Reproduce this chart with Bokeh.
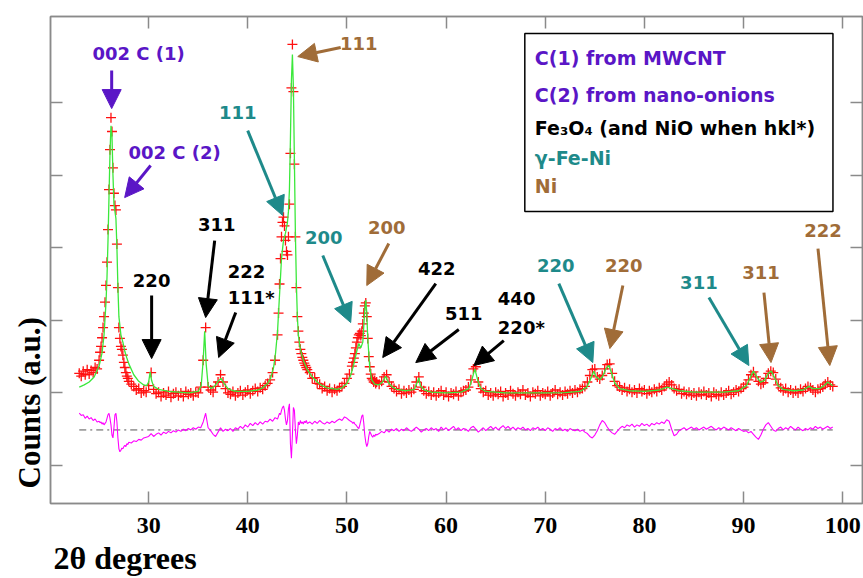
import numpy as np
from bokeh.plotting import figure
from bokeh.models import (LinearAxis, FixedTicker, Label, Arrow, NormalHead,
                          BoxAnnotation, Title)
from bokeh.embed import file_html
from bokeh.resources import INLINE

# ---------------- data ----------------
# observed pattern, per 2-theta segment (start, stop) -> counts
seg_a = (23.0, 25.0)
obs_a = [1270, 1230, 1300, 1250, 1320, 1260, 1310, 1280, 1350, 1330, 1450]
diff_a = [720, 690, 700, 650, 680, 640, 660, 620, 640, 600, 610]

seg_b = (25.1, 28.0)
obs_b = [1560, 1640, 1760, 1900, 2050, 2250, 2480, 2800, 3250,
         3800, 4350, 4790, 4600, 4100, 3750, 3580, 3520, 3050, 2450,
         1900, 1750, 1640, 1600, 1520, 1420, 1350, 1280, 1230, 1200,
         1160]
diff_b = [590, 600, 570, 590, 560, 580, 600, 650, 700,
          720, 650, 560, 420, 380, 520, 700, 720, 600, 380,
          230, 190, 210, 240, 230, 260, 280, 260, 300, 290,
          320]

seg_c = (28.25, 43.0)
obs_c = [1120, 1090, 1040, 1060, 1000, 1030, 1010, 1100, 1280, 1050, 990, 1010,
         950, 1000, 970, 1020, 940, 990, 1010, 960, 1000, 950, 1020, 980,
         1000, 960, 1010, 1000, 1080, 1450, 1900, 1080, 1040, 1010, 1090, 1150,
         1250, 1150, 1060, 1000, 980, 1020, 960, 1000, 1030, 970, 1010, 1040,
         990, 1030, 1060, 1020, 1070, 1050, 1100, 1130, 1180, 1280, 1450, 1800]
diff_c = [310, 340, 330, 360, 350, 380, 390, 400, 440, 400, 430, 450,
          420, 460, 440, 470, 450, 480, 460, 490, 470, 500, 480, 510,
          490, 520, 500, 530, 520, 600, 720, 520, 480, 430, 400, 460,
          520, 470, 500, 480, 510, 470, 520, 500, 540, 510, 560, 530,
          580, 550, 590, 560, 600, 570, 610, 600, 640, 610, 660, 640]

seg_d = (43.1, 46.0)
obs_d = [2100, 2500, 2850, 3150, 3350, 3420, 3300, 3100, 2950,
         2900, 3150, 3600, 4300, 5200, 5800, 5150, 4150, 3150, 2450,
         2050, 1850, 1700, 1600, 1540, 1490, 1450, 1410, 1380, 1350,
         1320]
diff_d = [680, 720, 700, 760, 800, 820, 760, 640, 560,
          620, 780, 850, 300, 100, 420, 800, 760, 500, 300,
          420, 600, 560, 620, 580, 600, 570, 610, 590, 620,
          580]

seg_e = (46.25, 50.5)
obs_e = [1280, 1200, 1210, 1130, 1120, 1060, 1090, 1030, 1060,
         1010, 1050, 1030, 1070, 1090, 1130, 1200, 1260, 1370]
diff_e = [600, 570, 610, 580, 620, 590, 570, 600, 580,
          610, 590, 620, 640, 620, 670, 650, 620, 600]

seg_f = (50.6, 53.0)
obs_f = [1420, 1480, 1540, 1620, 1700, 1760, 1800, 1820, 1790, 1850,
         1950, 2100, 2200, 2240, 2050, 1750, 1500, 1360, 1260, 1200,
         1180, 1150, 1170, 1130, 1150]
diff_f = [580, 600, 570, 560, 540, 520, 510, 560, 620, 680,
          700, 580, 420, 320, 260, 300, 400, 470, 440, 410,
          390, 420, 400, 430, 420]

seg_g = (53.25, 99.0)
obs_g = [1120, 1160, 1220, 1250, 1150, 1090, 1060, 1020, 1050, 990, 1030, 1000,
         1040, 1010, 1050, 1150, 1220, 1080, 1030, 990, 1020, 970, 1010, 960,
         1000, 1030, 970, 1010, 950, 1000, 980, 1020, 960, 1010, 1030, 1040,
         1080, 1180, 1330, 1360, 1150, 1060, 1010, 1030, 970, 1000, 960, 1010,
         980, 1020, 950, 1000, 970, 1030, 990, 960, 1010, 980, 1040, 970,
         1000, 950, 1010, 990, 1030, 960, 1000, 980, 1020, 960, 1000, 1040,
         980, 1010, 970, 1020, 990, 1030, 1000, 1040, 1010, 1050, 1060, 1090,
         1150, 1240, 1320, 1330, 1220, 1190, 1240, 1330, 1390, 1400, 1270, 1160,
         1100, 1080, 1040, 1070, 1020, 1050, 1010, 1040, 1000, 1060, 1020, 1040,
         990, 1030, 1010, 1050, 1020, 1070, 1040, 1090, 1120, 1150, 1110, 1060,
         1030, 1050, 990, 1020, 980, 1010, 970, 1000, 960, 1010, 980, 1020,
         970, 1000, 950, 1010, 980, 960, 1010, 970, 1000, 1030, 980, 1010,
         1040, 1020, 1060, 1080, 1120, 1180, 1250, 1290, 1220, 1160, 1120, 1140,
         1200, 1270, 1300, 1280, 1190, 1110, 1070, 1030, 1060, 1010, 1040, 1000,
         1030, 1000, 1050, 1020, 1060, 1090, 1070, 1040, 1010, 1050, 1060, 1080,
         1120, 1150, 1110, 1090]
diff_g = [440, 470, 450, 490, 460, 500, 480, 510, 470, 500, 480, 520,
          490, 470, 500, 530, 500, 460, 490, 510, 480, 520, 490, 510,
          470, 530, 490, 520, 480, 510, 540, 490, 520, 480, 510, 500,
          470, 520, 540, 500, 460, 490, 520, 480, 510, 540, 500, 530,
          490, 520, 550, 510, 540, 500, 530, 490, 520, 500, 530, 490,
          510, 480, 520, 500, 530, 490, 510, 480, 520, 500, 470, 510,
          490, 520, 480, 500, 470, 510, 490, 480, 500, 470, 490, 460,
          440, 400, 380, 420, 480, 560, 620, 590, 530, 480, 450, 430,
          470, 510, 540, 520, 560, 540, 570, 530, 560, 540, 580, 550,
          570, 540, 580, 560, 590, 570, 600, 580, 630, 610, 500, 410,
          430, 480, 500, 520, 490, 510, 530, 500, 520, 490, 510, 530,
          500, 520, 540, 510, 490, 520, 500, 530, 510, 490, 520, 500,
          480, 510, 490, 470, 480, 450, 470, 430, 390, 360, 420, 500,
          560, 590, 540, 490, 470, 510, 530, 490, 520, 500, 540, 510,
          490, 530, 500, 480, 510, 490, 520, 500, 540, 510, 530, 500,
          520, 540, 510, 530]

# calculated (fitted) profile
calc_x = [23.0, 23.5, 24.0, 24.5, 25.0, 25.3, 25.5, 25.7, 25.8, 25.9,
          26.0, 26.1, 26.2, 26.3, 26.4, 26.5, 26.6, 26.7, 26.8, 26.9,
          27.0, 27.2, 27.4, 27.6, 27.8, 28.0, 28.5, 29.0, 29.5, 29.8,
          30.0, 30.15, 30.3, 30.5, 31.0, 32.0, 33.0, 34.0, 35.0, 35.3,
          35.5, 35.65, 35.8, 36.0, 36.3, 36.7, 37.0, 37.3, 37.6, 38.0,
          38.5, 39.0, 40.0, 41.0, 41.5, 42.0, 42.3, 42.6, 42.8, 43.0,
          43.2, 43.4, 43.6, 43.8, 44.0, 44.1, 44.2, 44.3, 44.4, 44.5,
          44.6, 44.7, 44.8, 44.9, 45.0, 45.1, 45.3, 45.6, 46.0, 46.5,
          47.0, 47.5, 48.0, 49.0, 49.5, 50.0, 50.4, 50.7, 51.0, 51.2,
          51.4, 51.6, 51.8, 51.9, 52.0, 52.1, 52.3, 52.5, 52.8, 53.2,
          53.6, 53.9, 54.2, 54.6, 55.0, 56.0, 56.8, 57.1, 57.25, 57.4,
          57.8, 58.5, 60.0, 61.5, 62.3, 62.6, 62.9, 63.2, 63.5, 64.0,
          66.0, 70.0, 72.0, 73.5, 74.2, 74.6, 74.9, 75.1, 75.5, 75.8,
          76.1, 76.4, 76.7, 77.0, 77.5, 78.5, 80.0, 81.5, 82.3, 82.8,
          83.5, 85.0, 88.0, 89.5, 90.3, 90.7, 91.0, 91.3, 91.7, 92.1,
          92.5, 92.8, 93.1, 93.5, 94.0, 95.0, 96.0, 96.6, 97.0, 97.7,
          98.2, 98.5, 98.8, 99.0]
calc_y = [1080, 1110, 1150, 1220, 1370, 1550, 1800, 2250, 2600, 3100,
          3700, 4300, 4680, 4550, 4000, 3600, 3500, 3400, 3000, 2450,
          2050, 1800, 1700, 1570, 1480, 1400, 1250, 1160, 1110, 1100,
          1150, 1290, 1170, 1090, 1050, 1020, 1010, 1000, 1020, 1100,
          1450, 1850, 1400, 1100, 1060, 1100, 1160, 1200, 1130, 1060,
          1030, 1020, 1020, 1040, 1070, 1130, 1200, 1350, 1550, 1850,
          2350, 2850, 3100, 3200, 3350, 3500, 3800, 4500, 5300, 5660,
          5200, 4200, 3200, 2500, 2050, 1800, 1600, 1450, 1320, 1220,
          1150, 1100, 1070, 1050, 1070, 1130, 1250, 1400, 1580, 1680,
          1620, 1700, 2150, 2280, 2100, 1750, 1350, 1180, 1120, 1110,
          1150, 1230, 1140, 1080, 1050, 1030, 1050, 1150, 1210, 1100,
          1040, 1010, 1000, 1010, 1060, 1180, 1330, 1170, 1060, 1020,
          1000, 1000, 1005, 1020, 1080, 1200, 1300, 1230, 1180, 1230,
          1330, 1380, 1270, 1140, 1060, 1030, 1020, 1040, 1080, 1060,
          1030, 1010, 1010, 1030, 1100, 1220, 1300, 1230, 1150, 1170,
          1270, 1300, 1220, 1100, 1050, 1030, 1040, 1090, 1060, 1060,
          1110, 1150, 1120, 1100]

diff_zero = 490
x_ticks = [30, 40, 50, 60, 70, 80, 90, 100]
y_ticks = [0, 1000, 2000, 3000, 4000, 5000]

# ---------------- assemble ----------------
segments = [(seg_a, obs_a, diff_a), (seg_b, obs_b, diff_b), (seg_c, obs_c, diff_c),
            (seg_d, obs_d, diff_d), (seg_e, obs_e, diff_e), (seg_f, obs_f, diff_f),
            (seg_g, obs_g, diff_g)]
ox, oy, dx, dy = [], [], [], []
for (s0, s1), o, d in segments:
    ox.extend(np.linspace(s0, s1, len(o)))
    oy.extend(o)
    dx.extend(np.linspace(s0, s1, len(d)))
    dy.extend(d)
n_c = min(len(calc_x), len(calc_y))

PURPLE = "#5A16C6"
TEAL = "#1E8A8A"
BROWN = "#A06C38"
BLACK = "#000000"
GRAY = "#8a8a8a"

p = figure(width=863, height=578, x_range=(20.1, 102.0), y_range=(-523, 6184),
           output_backend="svg", toolbar_location=None,
           min_border_left=50, min_border_right=1, min_border_top=16,
           min_border_bottom=75)
p.xgrid.visible = False
p.ygrid.visible = False
p.outline_line_color = GRAY
p.outline_line_width = 1.5
p.background_fill_color = "white"
p.border_fill_color = "white"


def style_axis(ax, ticks, labelled):
    ax.ticker = FixedTicker(ticks=ticks)
    ax.major_tick_in = 12
    ax.major_tick_out = 0
    ax.minor_tick_in = 0
    ax.minor_tick_out = 0
    ax.axis_line_color = GRAY
    ax.axis_line_width = 1.5
    ax.major_tick_line_color = GRAY
    ax.major_tick_line_width = 1.5
    if labelled:
        ax.major_label_text_font = "Liberation Serif"
        ax.major_label_text_font_style = "bold"
        ax.major_label_text_font_size = "24px"
        ax.major_label_text_color = "black"
        ax.major_label_standoff = 14
    else:
        ax.major_label_overrides = {t: "" for t in ticks}
        ax.major_label_standoff = 0
        ax.major_label_text_font_size = "1px"


style_axis(p.xaxis[0], x_ticks, True)
style_axis(p.yaxis[0], y_ticks, False)
top_ax = LinearAxis()
right_ax = LinearAxis()
style_axis(top_ax, x_ticks, False)
style_axis(right_ax, y_ticks, False)
p.add_layout(top_ax, "above")
p.add_layout(right_ax, "right")

# axis titles
p.add_layout(Title(text="Counts (a.u.)", align="left", offset=15, standoff=8,
                   text_font="Liberation Serif", text_font_style="bold",
                   text_font_size="31px", text_color="black"), "left")
p.add_layout(Title(text="2\u03b8 degrees", align="left", offset=3, standoff=4,
                   text_font="Liberation Serif", text_font_style="bold",
                   text_font_size="32px", text_color="black"), "below")

# data
p.scatter(x=ox, y=oy, marker="cross", size=10, line_color="#FF1010", line_width=1.3)
p.line(x=calc_x[:n_c], y=calc_y[:n_c], line_color="#3BE83B", line_width=1.3)
p.line(x=[min(dx), max(dx)], y=[diff_zero, diff_zero], line_color="#555555",
       line_width=1, line_dash="7 4 2 4")
p.line(x=dx, y=dy, line_color="#FF00FF", line_width=1.1)

# ---------------- annotations ----------------
LABEL_FONT = "DejaVu Sans"


def add_label(txt, x, y, color, align="center", size="18px"):
    p.add_layout(Label(x=x, y=y, text=txt, text_color=color, text_font=LABEL_FONT,
                       text_font_style="bold", text_font_size=size,
                       text_align=align, text_baseline="middle"))


def add_arrow(x0, y0, x1, y1, color):
    p.add_layout(Arrow(end=NormalHead(size=19, fill_color=color, line_color=color),
                       x_start=x0, y_start=y0, x_end=x1, y_end=y1,
                       line_color=color, line_width=3))


# (text, x, y, color, align, arrow (x0, y0, x1, y1))
peak_notes = [
    ("002 C (1)", 28.99, 5673, PURPLE, "center", (26.27, 5439, 26.27, 4916)),
    ("002 C (2)", 32.62, 4310, PURPLE, "center", (30.20, 4131, 27.58, 3690)),
    ("111", 38.98, 4861, TEAL, "center", (39.99, 4613, 43.52, 3443)),
    ("111", 51.19, 5811, BROWN, "center", (49.37, 5756, 45.04, 5632)),
    ("311", 36.86, 3319, BLACK, "center", (36.66, 3098, 35.75, 2038)),
    ("220", 30.30, 2547, BLACK, "center", (30.30, 2341, 30.30, 1473)),
    ("222", 37.97, 2671, BLACK, "left", (38.78, 2107, 37.06, 1487)),
    ("111*", 37.97, 2313, BLACK, "left", None),
    ("200", 47.66, 3140, TEAL, "center", (47.56, 2892, 50.38, 1969)),
    ("200", 54.02, 3277, BROWN, "center", (54.22, 3057, 52.00, 2479)),
    ("422", 59.06, 2713, BLACK, "center", (58.96, 2506, 53.61, 1487)),
    ("511", 61.79, 2093, BLACK, "center", (61.28, 1873, 56.94, 1418)),
    ("440", 65.22, 2300, BLACK, "left", (65.82, 1721, 62.80, 1377)),
    ("220*", 65.22, 1900, BLACK, "left", None),
    ("220", 71.07, 2754, TEAL, "center", (71.37, 2506, 74.80, 1418)),
    ("220", 77.93, 2754, BROWN, "center", (77.83, 2479, 76.52, 1611)),
    ("311", 85.50, 2520, TEAL, "center", (86.51, 2313, 90.54, 1377)),
    ("311", 91.76, 2658, BROWN, "center", (92.06, 2382, 92.77, 1418)),
    ("222", 98.01, 3236, BROWN, "center", (97.51, 2988, 98.70, 1377)),
]
for txt, x, y, c, al, arr in peak_notes:
    add_label(txt, x, y, c, al)
    if arr is not None:
        add_arrow(*arr, c)

# legend box
p.add_layout(BoxAnnotation(left=67.94, right=99.02, bottom=3498, top=5949,
                           fill_color="white", fill_alpha=1.0, line_color="black",
                           line_alpha=1.0, line_width=1.5, level="annotation"))
legend_lines = [
    ("C(1) from MWCNT", 5618, PURPLE),
    ("C(2) from nano-onions", 5109, PURPLE),
    ("Fe\u2083O\u2084 (and NiO when hkl*)", 4654, BLACK),
    ("\u03b3-Fe-Ni", 4241, TEAL),
    ("Ni", 3856, BROWN),
]
for txt, y, c in legend_lines:
    add_label(txt, 68.95, y, c, "left", "19px")

open("out.html", "w").write(file_html(p, INLINE))
